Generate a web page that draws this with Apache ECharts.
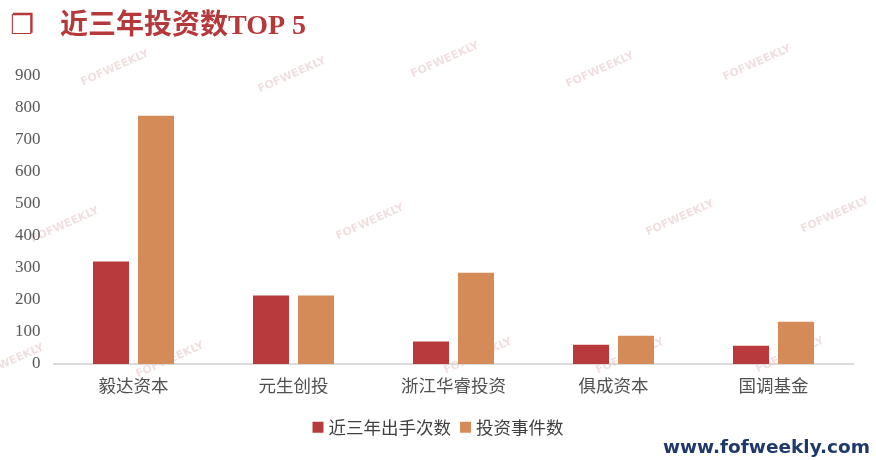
<!DOCTYPE html>
<html><head><meta charset="utf-8">
<script src="https://cdn.jsdelivr.net/npm/echarts@6/dist/echarts.min.js"></script>
<style>html,body{margin:0;padding:0;background:#fff}#c{width:876px;height:460px}</style>
</head><body><div id="c"></div>
<script>
const categories = ['毅达资本','元生创投','浙江华睿投资','俱成资本','国调基金'];
const seriesNames = ['近三年出手次数','投资事件数'];
const deals3y = [320, 214, 70, 60, 57];
const events = [776, 214, 285, 88, 132];
const yTicks = [0,100,200,300,400,500,600,700,800,900];

const wmPos = [[115,68],[292,75],[445,60],[600,70],[757,63],[65,225],[370,222],[680,218],[835,215],[10,362],[170,360],[478,356],[630,356],[790,355]];
const watermarks = wmPos.map(p => ({
  type:'text', x:p[0], y:p[1], rotation: 0.42, z: 0,
  style:{text:'FOFWEEKLY', fill:'rgba(210,150,150,0.3)', font:'bold 11px "DejaVu Sans", sans-serif', align:'center', verticalAlign:'middle'}
}));

const chart = echarts.init(document.getElementById('c'), null, {renderer:'canvas'});
chart.setOption({
  animation:false,
  backgroundColor:'#fff',
  graphic:[
    {type:'text', left:10, top:13, style:{text:'❐', fill:'#b5383a', font:'bold 27px "DejaVu Sans", sans-serif'}},
    {type:'text', left:60, top:13, style:{text:'近三年投资数TOP 5', fill:'#b5383a', font:'bold 28px "Liberation Serif", "Noto Sans CJK SC", serif'}},
    {type:'text', right:6, top:439, style:{text:'www.fofweekly.com', fill:'#1f3a6a', font:'bold 18.5px "DejaVu Sans", sans-serif'}},
    ...watermarks
  ],
  legend:{
    bottom:19, left:'center', itemWidth:11, itemHeight:11, itemGap:9,
    icon:'rect',
    textStyle:{fontSize:17.5, color:'#404040', fontFamily:'"Noto Sans CJK SC", sans-serif'},
    data:seriesNames
  },
  grid:{left:53.5, right:22.5, top:76, bottom:96, containLabel:false},
  xAxis:{
    type:'category', data:categories,
    axisLine:{show:true, lineStyle:{color:'#d0d0d0', width:1.5}},
    axisTick:{show:false},
    axisLabel:{fontSize:17.5, color:'#505050', margin:13, fontFamily:'"Noto Sans CJK SC", sans-serif'}
  },
  yAxis:{
    type:'value', min:0, max:900, interval:100,
    axisLine:{show:false}, axisTick:{show:false}, splitLine:{show:false},
    axisLabel:{fontSize:17, color:'#595959', margin:13, padding:[3,0,0,0], fontFamily:'"Liberation Serif", serif'}
  },
  series:[
    {name:seriesNames[0], type:'bar', data:deals3y, barWidth:36, barGap:'25%', itemStyle:{color:'#b83a3c'}},
    {name:seriesNames[1], type:'bar', data:events, barWidth:36, itemStyle:{color:'#d58b57'}}
  ]
});
</script></body></html>
